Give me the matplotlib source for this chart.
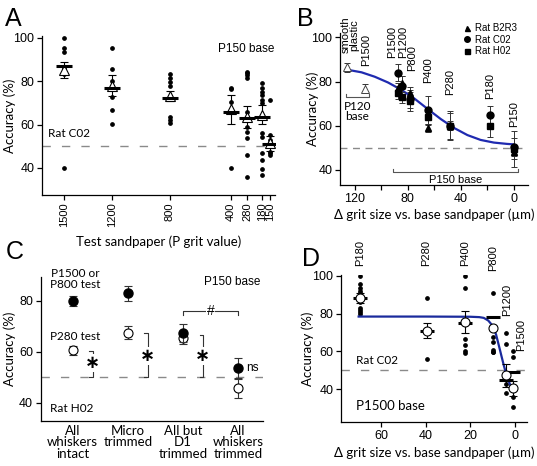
import numpy as np
import matplotlib
matplotlib.use("Agg")
import matplotlib.pyplot as plt

plt.rcParams['font.family'] = ['Liberation Sans', 'DejaVu Sans']
plt.rcParams['font.size'] = 8.5
plt.rcParams['axes.linewidth'] = 0.9
plt.rcParams['xtick.major.width'] = 0.9
plt.rcParams['ytick.major.width'] = 0.9
plt.rcParams['xtick.major.size'] = 3.5
plt.rcParams['ytick.major.size'] = 3.5

LBL = ['Lato', 'DejaVu Sans']   # calibri-ish labels
BLUE = '#1f2ab0'
GREY = '#8a8a8a'

# ---------------- panel A data (P150 base, rat C02) ----------------
a_labels = ['1500', '1200', '800', '400', '280', '180', '150']
a_xpos = [22, 70, 128, 189, 205, 220, 228]     # uneven category spacing on the axis
a_dots = [
    [100, 95.4, 93.7, 86.0, 83.5, 40.2],
    [95.4, 85.7, 80.2, 72.9, 66.8, 60.2],
    [83.2, 81.4, 79.8, 78.0, 63.7, 62.2, 60.6],
    [77.1, 76.5, 70.6, 40.2],
    [84.5, 83.7, 82.9, 81.4, 66.0, 59.1, 56.8, 53.7, 46.0, 35.7],
    [79.1, 76.8, 75.2, 73.7, 71.4, 69.9, 56.3, 54.5, 47.1, 43.7, 39.4, 36.8],
    [71.4, 55.2, 53.0, 50.6, 47.5, 47.0, 46.0],
]
a_mean = [85.2, 78.0, 73.0, 67.0, 63.5, 64.6, 51.4]
a_sem = [3.8, 5.0, 2.3, 6.8, 5.2, 4.5, 3.4]
a_median = [87.2, 76.8, 72.3, 66.0, 62.9, 63.7, 51.1]

# ---------------- panel B data ----------------
b_labels = ['P1500', 'P1200', 'P800', 'P400', 'P280', 'P180', 'P150']
b_dx = [87.4, 84.7, 78.2, 65.0, 47.8, 18.0, 0.0]
b_b2r3 = [77.0, 79.5, 75.0, 59.0, 60.0, np.nan, 48.0]
b_b2r3_err = [2.5, 3.0, 2.5, 2.0, 2.0, np.nan, 3.0]
b_c02 = [84.0, 78.0, 72.0, 67.0, 60.0, 65.0, 50.5]
b_c02_err = [3.8, 4.5, 4.0, 6.5, 6.0, 4.0, 4.0]
b_h02 = [75.0, 73.0, 71.0, 64.0, 60.0, 60.0, 49.5]
b_h02_err = [3.0, 2.5, 4.5, 3.0, 6.5, 5.0, 8.0]
b_open_lbl = ['smooth\nplastic', 'P1500']
b_open_dx = [125.8, 112.5]
b_open = [86.4, 76.8]
b_open_err = [2.0, 2.0]
b_lbl_x = [91.8, 83.5, 76.5, 64.7, 48.3, 18.1, -0.4]
b_lbl_y = [90.7, 90.7, 84.6, 79.3, 74.0, 72.1, 59.6]
b_open_lbl_x = [123.8, 111.9]
b_open_lbl_y = [92.9, 86.9]
# sigmoid fit
b_fit_x = [126, 115, 105, 95, 85, 75, 65, 55, 45, 35, 25, 15, 5, 0]
b_fit_y = [85.4, 84.2, 82.2, 79.6, 76.3, 72.3, 67.6, 63.0, 59.0, 55.8, 53.6, 52.4, 51.8, 51.6]

# ---------------- panel C data (rat H02) ----------------
c_groups = ['All\nwhiskers\nintact', 'Micro\ntrimmed', 'All but\nD1\ntrimmed', 'All\nwhiskers\ntrimmed']
c_fine = [80.0, 82.9, 67.2, 53.5]
c_fine_err = [2.0, 3.0, 3.6, 3.9]
c_coarse = [60.5, 67.5, 65.5, 45.6]
c_coarse_err = [1.8, 2.6, 2.5, 3.8]
c_sig_top = [60.4, 67.2, 66.5]

# ---------------- panel D data (P1500 base, rat C02) ----------------
d_labels = ['P180', 'P280', 'P400', 'P800', 'P1200', 'P1500']
d_dx = [69.4, 39.6, 22.4, 10.0, 4.0, 1.0]
d_dots = [
    [100, 95.6, 93.5, 92.0, 91.0, 86.0, 83.3, 82.1, 81.0, 79.8],
    [88.5, 56.0],
    [100, 93.5, 66.7, 63.2, 60.2, 59.1],
    [91.2, 67.5, 64.9, 61.0, 59.6, 59.6],
    [69.8, 64.0, 46.0, 43.0, 38.0],
    [60.5, 57.0, 36.0, 30.7],
]
d_mean = [88.3, 71.0, 75.5, 72.3, 47.4, 40.4]
d_sem = [2.6, 3.9, 5.8, 1.0, 6.0, 4.0]
d_median = [88.1, 71.1, 75.1, 78.4, 44.7, 48.9]
d_lbl_y = [105.3, 105.3, 105.3, 102.6, 79.0, 60.5]
d_lbl_x = [69.4, 39.6, 22.4, 10.0, 3.4, -2.5]
d_fit_x = [70, 40, 20, 16, 14, 12, 10, 8.5, 7, 6, 5, 4, 3, 2, 1.5]
d_fit_y = [78.5, 78.5, 78.4, 78.2, 77.8, 76.4, 73.6, 69.0, 62.0, 57.2, 52.5, 48.3, 44.8, 41.8, 40.5]


def style(ax):
    ax.spines['top'].set_visible(False)
    ax.spines['right'].set_visible(False)
    ax.tick_params(direction='out', pad=2, labelsize=9)


def chance(ax, dashes=(6, 8)):
    ax.axhline(50, color=GREY, lw=1, dashes=dashes, zorder=0)


def ylab(ax, xfrac):
    ax.set_ylabel('Accuracy (%)', family=LBL, fontsize=9.5)
    ax.yaxis.set_label_coords(xfrac, 0.5)


fig = plt.figure(figsize=(5.37, 4.66), dpi=100)

# ======================= A =======================
ax = fig.add_axes([0.0782, 0.5815, 0.4339, 0.3412])
style(ax)
chance(ax)
for i in range(len(a_labels)):
    ax.plot([a_xpos[i]] * len(a_dots[i]), a_dots[i], 'o', color='k', ms=2.4, zorder=2)
    ax.errorbar(a_xpos[i], a_mean[i], yerr=a_sem[i], fmt='none', ecolor='k',
                elinewidth=0.8, capsize=3, capthick=0.8, zorder=3)
    ax.plot(a_xpos[i], a_mean[i], '^', ms=7, mfc='white', mec='k', mew=0.8, zorder=4)
    ax.plot(a_xpos[i], a_median[i], '_', ms=11, mew=2.2, color='k', zorder=5)
ax.set_xlim(0, 233)
ax.set_ylim(27.5, 100.9)
ax.set_yticks([40, 60, 80, 100])
ax.set_xticks(a_xpos)
ax.set_xticklabels(a_labels, rotation=90, fontsize=8)
ylab(ax, -0.112)
ax.set_xlabel('Test sandpaper (P grit value)', family=LBL, fontsize=9.5, labelpad=6)
ax.text(6, 56, 'Rat C02', family=LBL, fontsize=8.5, ha='left', va='center')
ax.text(232, 95, 'P150 base', fontsize=8.5, ha='right', va='center')
fig.text(0.010, 0.985, 'A', fontsize=18, va='top')

# ======================= B =======================
ax = fig.add_axes([0.6331, 0.603, 0.3501, 0.3262])
style(ax)
chance(ax, dashes=(5, 4))
ax.plot(b_fit_x, b_fit_y, color=BLUE, lw=1.6, zorder=2)
ek = dict(fmt='none', ecolor='#333333', elinewidth=0.7, capsize=2.5, capthick=0.7, zorder=3)
ax.errorbar(b_dx, b_b2r3, yerr=b_b2r3_err, **ek)
ax.errorbar(b_dx, b_c02, yerr=b_c02_err, **ek)
ax.errorbar(b_dx, b_h02, yerr=b_h02_err, **ek)
ax.errorbar(b_open_dx, b_open, yerr=b_open_err, **ek)
h1, = ax.plot(b_dx, b_b2r3, '^', color='k', ms=4.5, ls='none', zorder=4)
h2, = ax.plot(b_dx, b_c02, 'o', color='k', ms=5, ls='none', zorder=4)
h3, = ax.plot(b_dx, b_h02, 's', color='k', ms=4.5, ls='none', zorder=4)
ax.plot(b_open_dx, b_open, '^', ms=6, mfc='white', mec='#444444', mew=0.7, ls='none', zorder=4)
for x, y, t in zip(b_lbl_x + b_open_lbl_x, b_lbl_y + b_open_lbl_y, b_labels + b_open_lbl):
    ax.text(x, y, t, rotation=90, ha='center', va='bottom', fontsize=8,
            linespacing=0.9, clip_on=False)
# P120 base bracket
ax.plot([127, 127, 109.5, 109.5], [74.2, 73.2, 73.2, 74.2], color='#555555', lw=0.8)
ax.text(118.2, 71.2, 'P120\nbase', family=LBL, ha='center', va='top', fontsize=8.5,
        linespacing=0.9)
# P150 base bracket
ax.plot([91.5, 91.5, -3.3, -3.3], [40.5, 39.2, 39.2, 40.5], color='#555555', lw=0.8)
ax.text(44, 37.9, 'P150 base', ha='center', va='top', fontsize=8)
ax.legend([h1, h2, h3], ['Rat B2R3', 'Rat C02', 'Rat H02'], loc='upper right',
          bbox_to_anchor=(0.98, 1.11), frameon=False, fontsize=7, handlelength=0.8,
          handletextpad=0.5, labelspacing=0.15, borderpad=0.2, markerscale=0.8)
ax.set_xlim(131.3, -10.8)
ax.set_ylim(33.2, 102)
ax.set_xticks([120, 80, 40, 0])
ax.set_xticks([100, 60, 20], minor=True)
ax.tick_params(which='minor', length=3.5, width=0.9, direction='out')
ax.set_yticks([40, 60, 80, 100])
ylab(ax, -0.112)
ax.set_xlabel('\u0394 grit size vs. base sandpaper (\u00b5m)', family=LBL, fontsize=9.5, labelpad=3)
fig.text(0.553, 0.985, 'B', fontsize=18, va='top')

# ======================= C =======================
ax = fig.add_axes([0.0758, 0.0972, 0.414, 0.309])
style(ax)
chance(ax)
xc = np.arange(len(c_groups))
ax.errorbar(xc, c_coarse, yerr=c_coarse_err, fmt='o', ms=6.5, mfc='white', mec='k',
            mew=0.8, ecolor='#333333', elinewidth=0.8, capsize=3, capthick=0.8, zorder=3)
ax.errorbar(xc, c_fine, yerr=c_fine_err, fmt='o', ms=6.5, mfc='k', mec='k',
            ecolor='#333333', elinewidth=0.8, capsize=3, capthick=0.8, zorder=4)
for i, top in enumerate(c_sig_top):
    xs = xc[i] + 0.36
    ax.plot([xs - 0.06, xs, xs, xs - 0.06], [top, top, 50, 50], color='#333333', lw=0.8)
    ax.text(xs, 55.5 if i == 0 else 58.2, '\u2217', family='DejaVu Sans', ha='center',
            va='center', fontsize=13, fontweight='bold',
            bbox=dict(fc='white', ec='none', pad=0.1))
ax.plot([2, 2, 3, 3], [74.5, 76, 76, 74.5], color='#333333', lw=0.8)
ax.text(2.5, 76, '#', ha='center', va='center', fontsize=10,
        bbox=dict(fc='white', ec='none', pad=0.5))
ax.text(3.15, 53.5, 'ns', ha='left', va='center', fontsize=8.5)
ax.text(0.05, 88.6, 'P1500 or\nP800 test', family=LBL, ha='center', va='center',
        fontsize=8.5, linespacing=1.0)
ax.text(0.05, 66, 'P280 test', family=LBL, ha='center', va='center', fontsize=8.5)
ax.text(-0.42, 37.7, 'Rat H02', family=LBL, ha='left', va='center', fontsize=8.5)
ax.text(3.4, 87.5, 'P150 base', ha='right', va='center', fontsize=8.5)
ax.set_xlim(-0.58, 3.45)
ax.set_ylim(32.9, 89.4)
ax.set_yticks([40, 60, 80])
ax.set_xticks(xc)
ax.set_xticklabels(c_groups, family=LBL, fontsize=9.5, linespacing=0.95)
ax.tick_params(axis='x', length=0, pad=3)
ylab(ax, -0.111)
fig.text(0.010, 0.485, 'C', fontsize=18, va='top')

# ======================= D =======================
ax = fig.add_axes([0.635, 0.0938, 0.347, 0.316])
style(ax)
chance(ax)
ax.plot(d_fit_x, d_fit_y, color='#1a2a9c', lw=1.6, zorder=3)
for i in range(len(d_labels)):
    ax.plot([d_dx[i]] * len(d_dots[i]), d_dots[i], 'o', color='k', ms=2.4, zorder=2)
    ax.errorbar(d_dx[i], d_mean[i], yerr=d_sem[i], fmt='none', ecolor='k',
                elinewidth=0.8, capsize=3, capthick=0.8, zorder=4)
    ax.plot(d_dx[i], d_median[i], '_', ms=10, mew=2.2, color='k', zorder=5)
    ax.plot(d_dx[i], d_mean[i], 'o', ms=6.5, mfc='white', mec='k', mew=0.8, zorder=6)
for x, y, t in zip(d_lbl_x, d_lbl_y, d_labels):
    ax.text(x, y, t, rotation=90, ha='center', va='bottom', fontsize=8, clip_on=False)
ax.text(71, 55, 'Rat C02', family=LBL, ha='left', va='center', fontsize=8.5)
ax.text(71, 31.2, 'P1500 base', family=LBL, ha='left', va='center', fontsize=9.5)
ax.set_xlim(77.9, -5.5)
ax.set_ylim(22.5, 100.5)
ax.set_xticks([60, 40, 20, 0])
ax.set_yticks([40, 60, 80, 100])
ylab(ax, -0.145)
ax.set_xlabel('\u0394 grit size vs. base sandpaper (\u00b5m)', family=LBL, fontsize=9.5, labelpad=3)
fig.text(0.562, 0.47, 'D', fontsize=18, va='top')

fig.savefig('out.png', dpi=100)
